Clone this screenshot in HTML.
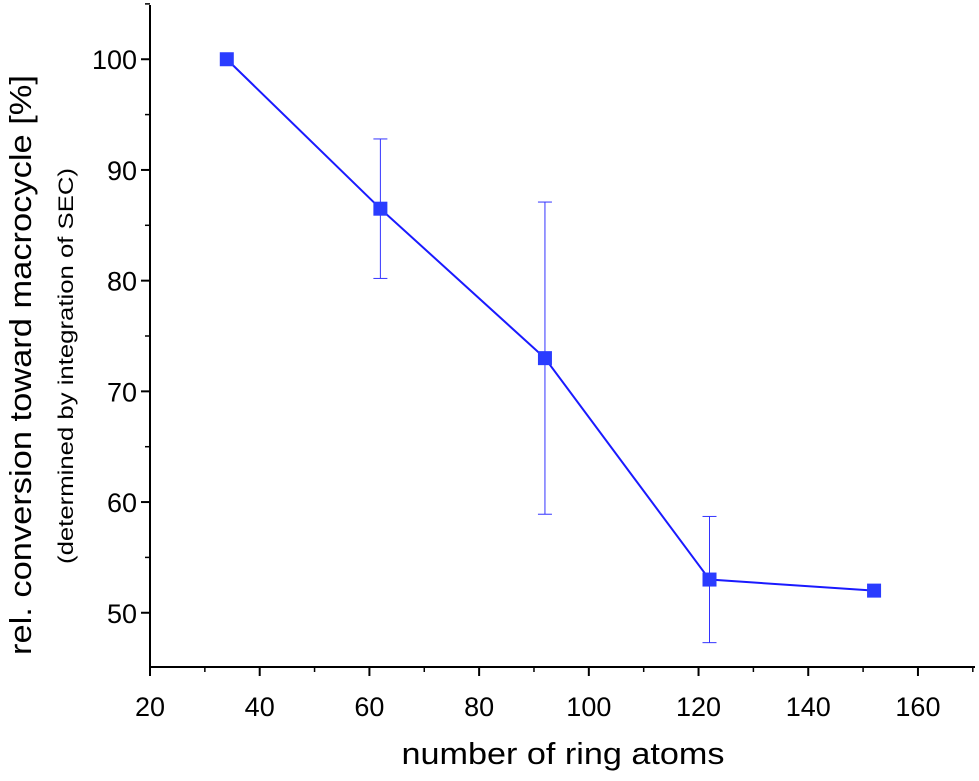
<!DOCTYPE html>
<html><head><meta charset="utf-8"><style>
body{margin:0;background:#fff;}
svg text{font-family:"Liberation Sans",Arial,sans-serif;fill:#000;}
</style></head><body>
<svg width="979" height="776" viewBox="0 0 979 776">
<g id="axes"></g>
<g id="marks"></g>
<text x="563" y="764" font-size="31" text-anchor="middle" textLength="323" lengthAdjust="spacingAndGlyphs">number of ring atoms</text>
<text transform="translate(31,365) rotate(-90)" font-size="31" text-anchor="middle" textLength="580" lengthAdjust="spacingAndGlyphs">rel. conversion toward macrocycle [%]</text>
<text transform="translate(73,366) rotate(-90)" font-size="21" text-anchor="middle" textLength="396" lengthAdjust="spacingAndGlyphs">(determined by integration of SEC)</text>
</svg>
<script>
const xVals=[34,62,92,122,152];
const yVals=[100,86.5,73,53,52];
const errLow=[null,80.2,58.9,47.3,null];
const errHigh=[null,92.8,87.1,58.7,null];
const xTicks=[20,40,60,80,100,120,140,160];
const yTicks=[50,60,70,80,90,100];
const X0=150,X1=975,Y0=667,Y1=5,xmin=20,xmax=170.4,ymin=45.1,ymax=104.9;
const sx=v=>X0+(v-xmin)/(xmax-xmin)*(X1-X0);
const sy=v=>Y0-(v-ymin)/(ymax-ymin)*(Y0-Y1);
const NS="http://www.w3.org/2000/svg";
function mk(t,a,p){const e=document.createElementNS(NS,t);for(const k in a)e.setAttribute(k,a[k]);p.appendChild(e);return e;}
const ax=document.getElementById('axes'),mg=document.getElementById('marks');
let e=mk('line',{x1:X0,y1:Y1,x2:X0,y2:Y0,stroke:'#000','stroke-width':2},ax);


e=mk('line',{x1:X0,y1:Y0,x2:X1,y2:Y0,stroke:'#000','stroke-width':2},ax);


xTicks.forEach(v=>{const x=sx(v);
mk('line',{x1:x,y1:Y0,x2:x,y2:Y0+9,stroke:'#000','stroke-width':2},ax);
mk('line',{x1:sx(v+10),y1:Y0,x2:sx(v+10),y2:Y0+5,stroke:'#000','stroke-width':1.5},ax);
const t=mk('text',{x:x,y:716,'font-size':27,'text-anchor':'middle'},ax);t.textContent=v;

});
yTicks.forEach(v=>{const y=sy(v);
mk('line',{x1:X0-9,y1:y,x2:X0,y2:y,stroke:'#000','stroke-width':2},ax);
mk('line',{x1:X0-5,y1:sy(v+5),x2:X0,y2:sy(v+5),stroke:'#000','stroke-width':1.5},ax);
const t=mk('text',{x:137,y:y+10,'font-size':27,'text-anchor':'end'},ax);t.textContent=v;

});
e=mk('polyline',{points:xVals.map((v,i)=>sx(v)+','+sy(yVals[i])).join(' '),fill:'none',stroke:'#1a1aff','stroke-width':2},mg);


xVals.forEach((v,i)=>{const x=sx(v);
if(errLow[i]!=null){const g=mk('g',{stroke:'#3333ff','stroke-width':1},mg);


mk('line',{x1:x,y1:sy(errLow[i]),x2:x,y2:sy(errHigh[i])},g);
mk('line',{x1:x-7,y1:sy(errLow[i]),x2:x+7,y2:sy(errLow[i])},g);
mk('line',{x1:x-7,y1:sy(errHigh[i]),x2:x+7,y2:sy(errHigh[i])},g);}
const r=mk('rect',{x:x-7,y:sy(yVals[i])-7,width:14,height:14,fill:'#2a3cff'},mg);

});
</script>
</body></html>
